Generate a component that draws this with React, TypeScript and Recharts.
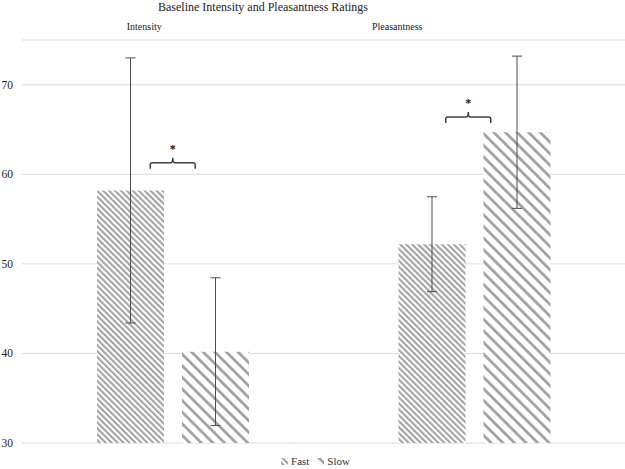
import React from 'react';
import {
  BarChart, Bar, XAxis, YAxis, CartesianGrid, ErrorBar, Legend, ReferenceDot, Customized
} from 'recharts';

const categories = ['Intensity', 'Pleasantness'];
const fastValues = [58.2, 52.2];
const fastErrors = [14.8, 5.3];
const slowValues = [40.2, 64.7];
const slowErrors = [8.25, 8.5];
const seriesNames = ['Fast', 'Slow'];
const yTicks = [30, 40, 50, 60, 70];
const bracketLevels = [61.3, 66.4];
const bracketMarks = ['*', '*'];

const data = categories.map((name, i) => ({
  name,
  fast: fastValues[i],
  fastErr: fastErrors[i],
  slow: slowValues[i],
  slowErr: slowErrors[i],
}));

// label / bracket nudges, px (the original has hand placed text boxes)
const labelShift: Record<string, number> = { Intensity: -28.5, Pleasantness: -77 };
const bracketShift = [0, -6];

const FONT = '"Liberation Serif", "Times New Roman", serif';
const GRAY = '#a3a3a3';

const Patterns = ({ prefix }: { prefix: string }) => (
  <defs>
    <pattern id={prefix + 'fast'} patternUnits="userSpaceOnUse" width={4.2} height={4.2}
      patternTransform="rotate(-45)">
      <rect x={0} y={0} width={4.2} height={4.2} fill="#fff" />
      <rect x={0} y={0} width={2.1} height={4.2} fill={GRAY} />
    </pattern>
    <pattern id={prefix + 'slow'} patternUnits="userSpaceOnUse" width={8.2} height={8.2}
      patternTransform="rotate(-45)">
      <rect x={0} y={0} width={8.2} height={8.2} fill="#fff" />
      <rect x={0} y={0} width={2.8} height={8.2} fill={GRAY} />
    </pattern>
  </defs>
);

const TopTick = (props: any) => {
  const { x, y, payload } = props;
  const v = payload.value as string;
  return (
    <text x={x + (labelShift[v] || 0)} y={y - 2.5} textAnchor="middle"
      style={{ fontFamily: FONT, fontSize: 10 }} fill="#222">
      {v}
    </text>
  );
};

const YTick = (props: any) => {
  const { x, y, payload } = props;
  return (
    <text x={x} y={y + 4} textAnchor="end" style={{ fontFamily: FONT, fontSize: 11.5 }} fill="#222">
      {payload.value}
    </text>
  );
};

const makeBracket = (i: number) => (props: any) => {
  const { cx, cy } = props;
  const c = cx + bracketShift[i];
  const hw = 22.5;
  const r = 2;
  const d = `M${c - hw},${cy + 6} L${c - hw},${cy + r} Q${c - hw},${cy} ${c - hw + r},${cy}`
    + ` L${c - r},${cy} Q${c},${cy} ${c},${cy - 5}`
    + ` M${c},${cy - 5} Q${c},${cy} ${c + r},${cy} L${c + hw - r},${cy} Q${c + hw},${cy} ${c + hw},${cy + r} L${c + hw},${cy + 6}`;
  return (
    <g>
      <path d={d} fill="none" stroke="#404040" strokeWidth={1.5} />
      <text x={c} y={cy - 10} textAnchor="middle" style={{ fontFamily: FONT, fontSize: 12, fontWeight: 'bold' }}
        fill="#111">{bracketMarks[i]}</text>
    </g>
  );
};

const LegendContent = () => (
  <div style={{ display: 'flex', justifyContent: 'center', alignItems: 'flex-end', height: 26,
    fontFamily: FONT, fontSize: 11, color: '#333', paddingLeft: 14 }}>
    {seriesNames.map((n, i) => (
      <span key={n} style={{ display: 'inline-flex', alignItems: 'center', marginRight: 8, lineHeight: '13px', marginBottom: 1 }}>
        <svg width={7} height={7} style={{ marginRight: 3 }}>
          <Patterns prefix={'lg' + i} />
          <rect x={0} y={0} width={7} height={7} fill={`url(#lg${i}${i === 0 ? 'fast' : 'slow'})`} />
        </svg>
        {n}
      </span>
    ))}
  </div>
);

export default function App() {
  return (
    <div style={{ position: 'absolute', left: 0, top: 0 }}>
      <BarChart width={625} height={469} data={data} barSize={67} barGap={18}
        margin={{ top: 20, right: 0, bottom: 0, left: 0 }}>
        <Patterns prefix="bar" />
        <CartesianGrid vertical={false} stroke="#d9d9d9" />
        <XAxis dataKey="name" orientation="top" height={20} axisLine={false} tickLine={false}
          tick={<TopTick />} interval={0} />
        <YAxis width={22} domain={[30, 75]} ticks={yTicks} axisLine={false} tickLine={false}
          tickMargin={3} allowDataOverflow tick={<YTick />} />
        <Bar dataKey="fast" name={seriesNames[0]} fill="url(#barfast)" isAnimationActive={false}>
          <ErrorBar dataKey="fastErr" width={5} stroke="#4d4d4d" strokeWidth={1} direction="y" />
        </Bar>
        <Bar dataKey="slow" name={seriesNames[1]} fill="url(#barslow)" isAnimationActive={false}>
          <ErrorBar dataKey="slowErr" width={5} stroke="#4d4d4d" strokeWidth={1} direction="y" />
        </Bar>
        {categories.map((c, i) => (
          <ReferenceDot key={c} x={c} y={bracketLevels[i]} r={0} shape={makeBracket(i)} />
        ))}
        <Legend verticalAlign="bottom" height={26} wrapperStyle={{ bottom: 0 }}
          content={<LegendContent />} />
        <Customized component={() => (
          <text x={263} y={11} textAnchor="middle" style={{ fontFamily: FONT, fontSize: 12 }} fill="#222">
            Baseline Intensity and Pleasantness Ratings
          </text>
        )} />
      </BarChart>
    </div>
  );
}
